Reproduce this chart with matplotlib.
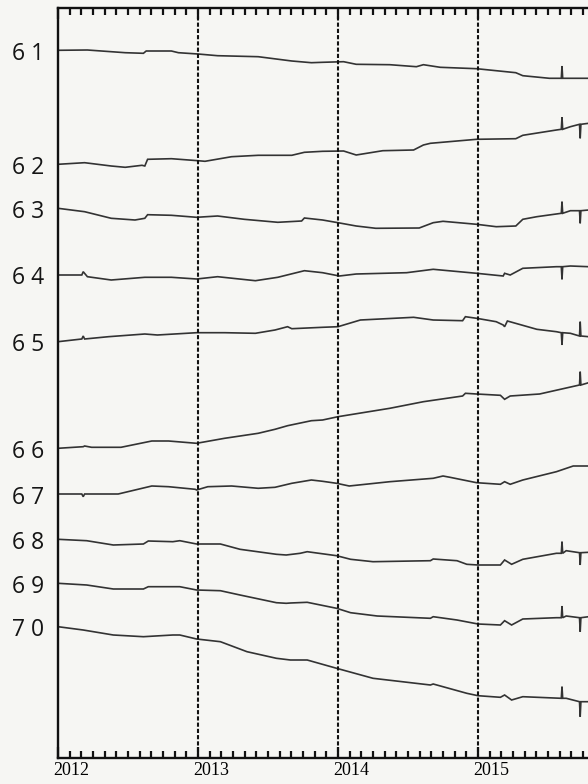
import matplotlib
matplotlib.use('Agg')
import matplotlib.pyplot as plt
import matplotlib.transforms as mtransforms
from matplotlib.ticker import FixedLocator, MultipleLocator

# station names and baseline offsets of each trace
stations = ['6 1', '6 2', '6 3', '6 4', '6 5', '6 6', '6 7', '6 8', '6 9', '7 0']
offsets = [707.7, 593.7, 549.7, 483.0, 416.3, 309.7, 264.0, 218.7, 174.7, 131.3]
t0 = 2012.0
year_ticks = [2012, 2013, 2014, 2015]

# time (years since 2012) and displacement for each station
t61 = [0, 0.21, 0.48, 0.61, 0.63, 0.81, 0.86, 1.00, 1.14, 1.43, 1.67, 1.81, 1.89, 2.04, 2.13, 2.37, 2.56, 2.61, 2.73, 2.99, 3.27, 3.32, 3.51, 3.595, 3.60, 3.605, 3.63, 3.79]
d61 = [0, 0.3, -2.4, -3.0, -0.7, -0.7, -2.4, -3.7, -5.4, -6.4, -10.7, -12.4, -12.0, -11.4, -14.0, -14.4, -16.4, -14.4, -17.0, -18.4, -22.4, -25.4, -28.0, -28.0, -15.7, -28.0, -28.0, -28.0]

t62 = [0, 0.19, 0.38, 0.48, 0.60, 0.62, 0.64, 0.81, 1.00, 1.05, 1.24, 1.43, 1.67, 1.76, 1.89, 2.04, 2.13, 2.32, 2.54, 2.61, 2.66, 2.99, 3.27, 3.32, 3.56, 3.595, 3.60, 3.605, 3.66, 3.725, 3.73, 3.735, 3.79]
d62 = [0, 1.6, -1.7, -3.0, -1.0, -1.7, 5.0, 5.6, 3.6, 3.0, 7.6, 9.0, 9.0, 12.0, 13.0, 13.3, 9.3, 13.6, 14.3, 19.3, 21.0, 25.0, 25.6, 29.0, 34.3, 35.0, 47.0, 35.0, 37.6, 40.0, 26.0, 40.0, 41.0]

t63 = [0, 0.19, 0.38, 0.55, 0.62, 0.64, 0.81, 0.99, 1.14, 1.33, 1.57, 1.74, 1.76, 1.89, 2.00, 2.13, 2.27, 2.58, 2.68, 2.75, 2.99, 3.13, 3.27, 3.32, 3.42, 3.595, 3.60, 3.605, 3.66, 3.725, 3.73, 3.735, 3.79]
d63 = [0, -3.4, -10.0, -11.7, -10.0, -6.4, -7.0, -9.0, -7.7, -11.0, -14.0, -12.7, -9.7, -11.7, -14.4, -17.7, -20.0, -19.7, -14.4, -13.0, -16.0, -18.4, -17.7, -11.0, -8.4, -5.0, 6.6, -5.0, -2.4, -2.4, -15.0, -2.4, -1.7]

t64 = [0, 0.17, 0.18, 0.21, 0.38, 0.62, 0.81, 0.99, 1.14, 1.41, 1.57, 1.76, 1.89, 2.01, 2.13, 2.49, 2.68, 2.99, 3.18, 3.19, 3.23, 3.32, 3.56, 3.595, 3.60, 3.605, 3.66, 3.79]
d64 = [0, 0, 3.3, -1.7, -5.0, -2.3, -2.3, -4.0, -1.7, -5.7, -2.3, 4.3, 2.3, -1.0, 1.0, 2.3, 5.7, 1.7, -1.0, 1.7, 0, 6.7, 8.3, 8.3, -4.3, 8.3, 9.0, 8.3]

t65 = [0, 0.17, 0.18, 0.19, 0.36, 0.62, 0.71, 0.99, 1.19, 1.41, 1.55, 1.64, 1.67, 1.89, 2.00, 2.16, 2.54, 2.68, 2.89, 2.91, 2.99, 3.13, 3.18, 3.19, 3.21, 3.42, 3.56, 3.595, 3.60, 3.605, 3.66, 3.725, 3.73, 3.735, 3.79]
d65 = [0, 2.7, 5.7, 2.7, 5.0, 7.7, 6.7, 9.0, 9.0, 8.4, 11.7, 15.0, 13.0, 14.4, 15.0, 21.7, 24.4, 21.7, 21.0, 25.0, 23.4, 20.0, 16.7, 15.0, 20.7, 12.4, 10.0, 9.0, -3.3, 9.0, 8.4, 5.7, 20.0, 5.7, 5.0]

t66 = [0, 0.18, 0.19, 0.24, 0.45, 0.67, 0.79, 0.99, 1.19, 1.43, 1.55, 1.64, 1.81, 1.89, 2.00, 2.37, 2.61, 2.89, 2.91, 2.99, 3.16, 3.19, 3.23, 3.44, 3.725, 3.73, 3.735, 3.79]
d66 = [0, 1.6, 2.3, 1.0, 1.0, 7.3, 7.3, 5.0, 10.0, 15.0, 19.0, 22.6, 27.6, 28.3, 31.6, 40.0, 46.6, 52.3, 55.0, 54.3, 53.0, 49.0, 52.3, 54.3, 63.3, 76.6, 63.3, 65.6]

t67 = [0, 0.17, 0.18, 0.19, 0.43, 0.67, 0.79, 0.98, 0.99, 1.07, 1.24, 1.43, 1.55, 1.67, 1.81, 1.89, 1.99, 2.08, 2.37, 2.68, 2.75, 2.80, 2.99, 3.16, 3.19, 3.23, 3.32, 3.56, 3.68, 3.79]
d67 = [0, 0, -2.7, 0, 0, 8.0, 7.3, 4.7, 4.0, 7.3, 8.0, 5.7, 6.7, 10.7, 14.0, 12.7, 10.7, 8.0, 12.3, 15.7, 18.0, 16.7, 11.3, 9.7, 12.3, 9.7, 14.0, 22.3, 28.0, 28.0]

t68 = [0, 0.205, 0.395, 0.61, 0.645, 0.82, 0.87, 0.99, 1.16, 1.30, 1.56, 1.63, 1.73, 1.78, 1.99, 2.09, 2.25, 2.66, 2.68, 2.85, 2.92, 3.00, 3.16, 3.19, 3.24, 3.32, 3.56, 3.595, 3.60, 3.605, 3.63, 3.725, 3.73, 3.735, 3.79]
d68 = [0, -1.4, -5.7, -4.7, -1.7, -2.4, -1.4, -4.7, -4.7, -10.0, -15.0, -15.7, -14.0, -12.4, -16.4, -20.0, -22.4, -21.4, -19.7, -21.4, -25.0, -25.7, -25.7, -20.7, -25.0, -20.0, -14.0, -14.0, -2.4, -14.0, -11.4, -13.4, -25.7, -13.4, -13.0]

t69 = [0, 0.205, 0.395, 0.61, 0.645, 0.87, 0.99, 1.16, 1.30, 1.56, 1.63, 1.66, 1.78, 1.99, 2.09, 2.28, 2.66, 2.68, 2.85, 3.00, 3.16, 3.19, 3.24, 3.32, 3.56, 3.595, 3.60, 3.605, 3.63, 3.725, 3.73, 3.735, 3.79]
d69 = [0, -1.7, -5.7, -5.7, -3.4, -3.4, -6.7, -7.4, -11.7, -19.4, -20.0, -19.7, -19.0, -25.0, -29.4, -32.7, -35.0, -33.4, -36.7, -40.7, -41.7, -37.4, -41.7, -35.7, -34.4, -34.4, -22.7, -34.4, -32.7, -34.4, -48.4, -34.4, -33.4]

t70 = [0, 0.18, 0.395, 0.61, 0.82, 0.87, 0.99, 1.16, 1.35, 1.56, 1.66, 1.78, 1.99, 2.25, 2.66, 2.68, 2.92, 3.00, 3.16, 3.19, 3.24, 3.32, 3.595, 3.60, 3.605, 3.63, 3.725, 3.73, 3.735, 3.79]
d70 = [0, -3.3, -8.3, -10.0, -8.3, -8.3, -12.3, -15.0, -25.0, -31.6, -33.3, -33.3, -41.6, -51.6, -58.3, -57.3, -66.6, -69.0, -70.6, -68.3, -73.3, -70.0, -71.6, -60.0, -71.6, -71.6, -75.0, -90.0, -75.0, -75.0]

times = [t61, t62, t63, t64, t65, t66, t67, t68, t69, t70]
disps = [d61, d62, d63, d64, d65, d66, d67, d68, d69, d70]

bg = '#f6f6f3'
fig = plt.figure(figsize=(5.88, 7.84), dpi=100, facecolor=bg)
# axes run on past the right edge, the picture is cut there
ax = fig.add_axes([58 / 588, 26 / 784, 560 / 588, 750 / 784])
ax.set_facecolor(bg)

for name, off, t, d in zip(stations, offsets, times, disps):
    x = [t0 + v for v in t]
    y = [off + v for v in d]
    ax.plot(x, y, color='#333333', lw=1.2, solid_joinstyle='miter')
    lab_tr = ax.transData + mtransforms.ScaledTranslation(-0.14, -0.035, fig.dpi_scale_trans)
    ax.text(t0, off, name, transform=lab_tr, ha='right', va='center',
            fontsize=16.5, family='Open Sans', color='#151515', clip_on=False)

for yr in year_ticks[1:]:
    ax.axvline(yr, color='#111111', lw=1.5, dashes=(2.0, 1.0))

ax.set_xlim(2012, 2016)
ax.set_ylim(0, 750)

ax.xaxis.set_major_locator(FixedLocator(year_ticks))
ax.xaxis.set_minor_locator(MultipleLocator(1 / 12))
ax.set_yticks([])
ax.tick_params(axis='x', which='both', direction='in', top=True, bottom=True,
               width=1.6, color='#111111')
ax.tick_params(axis='x', which='major', length=8, pad=3)
ax.tick_params(axis='x', which='minor', length=5)

ax.set_xticklabels([str(y) for y in year_ticks], family='Liberation Serif', fontsize=13)
shift = mtransforms.ScaledTranslation(-0.05, 0, fig.dpi_scale_trans)
for lab in ax.get_xticklabels():
    lab.set_horizontalalignment('left')
    lab.set_transform(lab.get_transform() + shift)

for side in ['left', 'bottom', 'top']:
    ax.spines[side].set_linewidth(1.7)
    ax.spines[side].set_color('#111111')

fig.savefig('out.png', dpi=100, facecolor=bg)
